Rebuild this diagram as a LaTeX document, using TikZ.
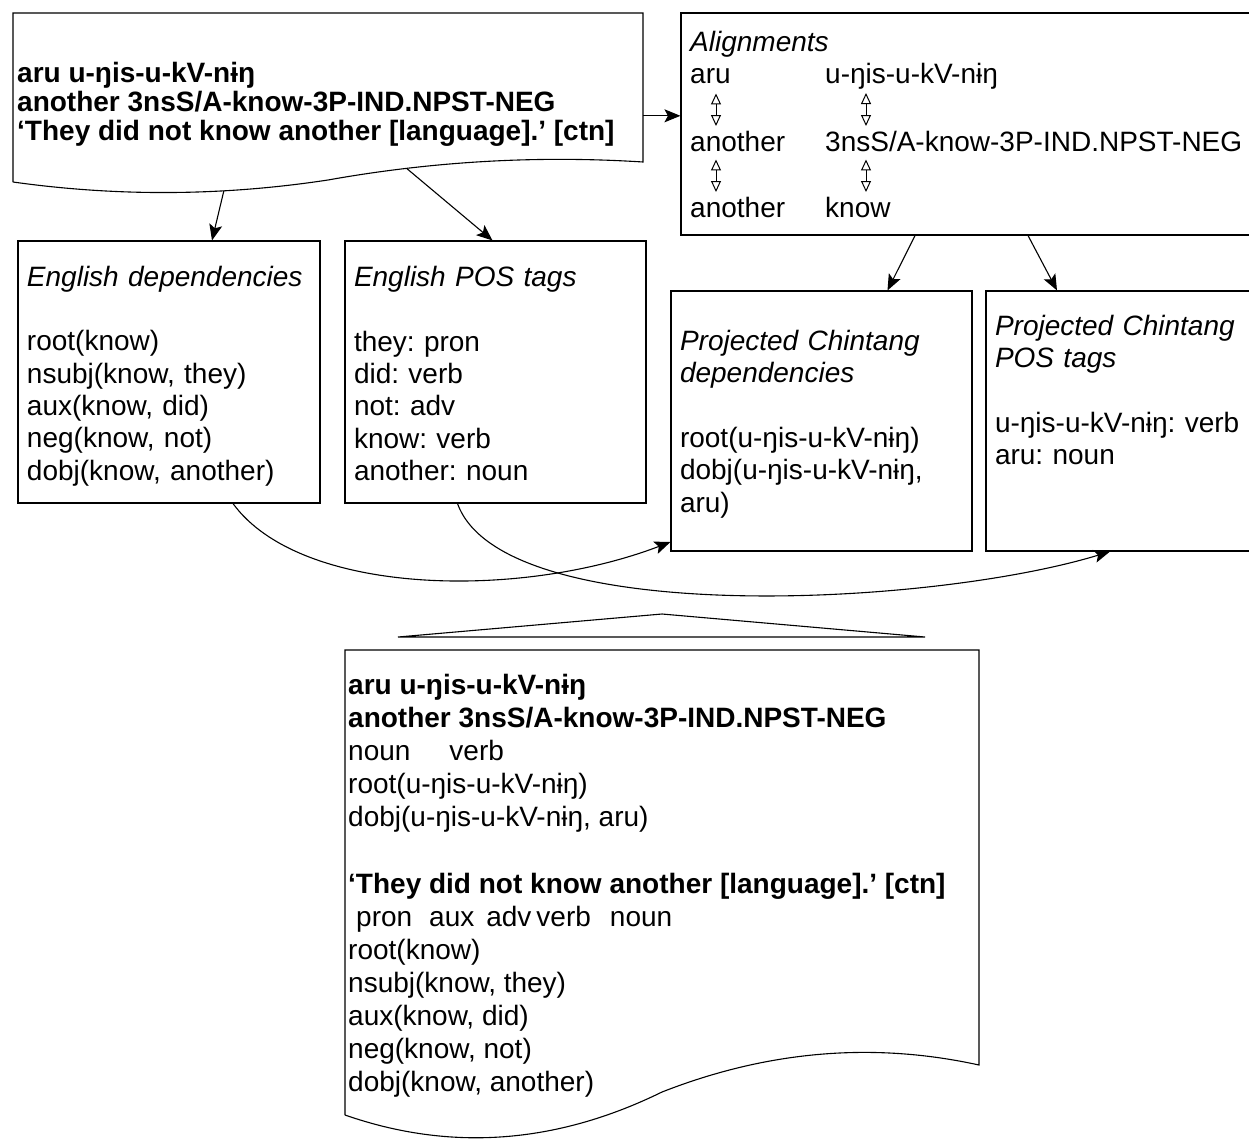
\documentclass[tikz,border=0pt]{standalone}
\usepackage{fontspec}
\setmainfont{Liberation Sans}
\frenchspacing
\usetikzlibrary{arrows.meta}
\newcommand\up[1]{\rule{0pt}{#1}}
\tikzset{
  docline/.style={draw=black, line width=1.1pt},
  frame/.style={draw=black, line width=1.1pt, inner sep=0pt},
  box/.style={draw=black, line width=1.1pt, inner xsep=9pt, inner ysep=0pt, align=left,
    font=\fontsize{28}{32.3}\selectfont},
  word/.style={inner sep=0pt, anchor=base west, font=\fontsize{28}{33}\selectfont},
  gloss/.style={inner sep=0pt, anchor=north west, align=left, font=\fontsize{28}{29}\selectfont\bfseries},
  mtext/.style={inner sep=0pt, anchor=north west, align=left, font=\fontsize{28}{33.1}\selectfont},
  arr/.style={line width=1.1pt, -{Stealth[length=16pt,width=13pt,inset=3.5pt]}},
  dblarr/.style={line width=1pt, {Triangle[open,length=11pt,width=10pt]}-{Triangle[open,length=11pt,width=10pt]}}
}

\begin{document}
\begin{tikzpicture}[x=1pt,y=-1pt]
  \path[fill=white, use as bounding box] (0,0) rectangle (1249,1140);
  \clip (0,0) rectangle (1249,1140);

  % source sentence (document shape)
  \draw[docline] (13,182) -- (13,13) -- (643,13) -- (643,162) coordinate[pos=0.69] (srcR)
    .. controls (537.7,155.3) and (432.7,161.3) .. (328,180) coordinate[pos=0.75] (srcB)
    .. controls (222.7,196) and (117.7,196.7) .. (13,182) coordinate[pos=0.33] (srcA);
  \node[gloss] (src) at (17,62) {aru u-ŋis-u-kV-nɨŋ\\another 3nsS/A-know-3P-IND.NPST-NEG\\‘They did not know another [language].’ [ctn]};

  % alignments
  \node[frame, minimum width=580pt, minimum height=222pt] (align) at (971,124) {};
  \node[word] (alTitle) at (690,52) {\textit{Alignments}};
  \node[word] (a1) at (690,83) {aru};
  \node[word] (b1) at (825,83) {u-ŋis-u-kV-nɨŋ};
  \node[word] (a2) at (690,151) {another};
  \node[word] (b2) at (825,151) {3nsS/A-know-3P-IND.NPST-NEG};
  \node[word] (a3) at (690,217) {another};
  \node[word] (b3) at (825,217) {know};
  \draw[dblarr, shorten <=10pt, shorten >=4.5pt] ([xshift=26pt]a1.south west) -- ([xshift=26pt]a2.north west);
  \draw[dblarr, shorten <=4pt, shorten >=4.5pt] ([xshift=41pt]b1.south west) -- ([xshift=41pt]b2.north west);
  \draw[dblarr, shorten <=8pt, shorten >=4.5pt] ([xshift=26pt]a2.south west) -- ([xshift=26pt]a3.north west);
  \draw[dblarr, shorten <=8pt, shorten >=4.5pt] ([xshift=41pt]b2.south west) -- ([xshift=41pt]b3.north west);

  % English side
  \node[box, minimum width=302pt, minimum height=262pt, text width=284pt] (depEN) at (169,372)
    {\up{28.4pt}\textit{English dependencies}\\[32.3pt]root(know)\\nsubj(know, they)\\aux(know, did)\\neg(know, not)\\dobj(know, another)};
  \node[box, minimum width=301pt, minimum height=262pt, text width=283pt] (posEN) at (495.5,372)
    {\up{23.4pt}\textit{English POS tags}\\[32.3pt]they: pron\\did: verb\\not: adv\\know: verb\\another: noun};

  % projected Chintang
  \node[box, minimum width=301pt, minimum height=260pt, text width=283pt] (depCT) at (821.5,421)
    {\up{26.4pt}\textit{Projected Chintang}\\\textit{dependencies}\\[32.3pt]root(u-ŋis-u-kV-nɨŋ)\\dobj(u-ŋis-u-kV-nɨŋ,\\aru)};
  \node[box, minimum width=302pt, minimum height=260pt, text width=284pt] (posCT) at (1137,421)
    {\up{22.4pt}\textit{Projected Chintang}\\\textit{POS tags}\\[32.3pt]u-ŋis-u-kV-nɨŋ: verb\\aru: noun\\[32.3pt]\mbox{}};

  \draw[arr] (srcR) -- (srcR -| align.west);
  \draw[arr] (srcA) -- ([xshift=43pt]depEN.north);
  \draw[arr] (srcB) -- ([xshift=-3pt]posEN.north);
  \draw[arr] ([xshift=-56pt]align.south) -- ([xshift=66pt]depCT.north);
  \draw[arr] ([xshift=57pt]align.south) -- ([xshift=-80pt]posCT.north);
  \draw[arr] ([xshift=64pt]depEN.south) .. controls +(67,92) and +(-152,58) .. ([yshift=-121pt]depCT.west);
  \draw[arr] ([xshift=-38pt]posEN.south) .. controls +(45,125) and +(-180,55) .. ([xshift=-27pt]posCT.south);

  % merge
  \draw[docline, line join=miter] (398,637) -- (662,614) -- (925,637) -- cycle;

  % merged result (document shape)
  \draw[docline] (345,1115) -- (345,650) -- (979,650) -- (979,1065)
    .. controls (873,1041.7) and (767.3,1050.7) .. (662,1092)
    .. controls (556,1144) and (450.3,1151.7) .. (345,1115);
  \node[mtext] (merged) at (348,674) {\textbf{aru u-ŋis-u-kV-nɨŋ}\\\textbf{another 3nsS/A-know-3P-IND.NPST-NEG}\\noun\hspace{39pt}verb\\root(u-ŋis-u-kV-nɨŋ)\\dobj(u-ŋis-u-kV-nɨŋ, aru)\\[33.1pt]\textbf{‘They did not know another [language].’ [ctn]}\\\hspace*{8pt}pron\hspace{17pt}aux\hspace{12pt}adv\hspace{5pt}verb\hspace{19pt}noun\\root(know)\\nsubj(know, they)\\aux(know, did)\\neg(know, not)\\dobj(know, another)};
\end{tikzpicture}
\end{document}
